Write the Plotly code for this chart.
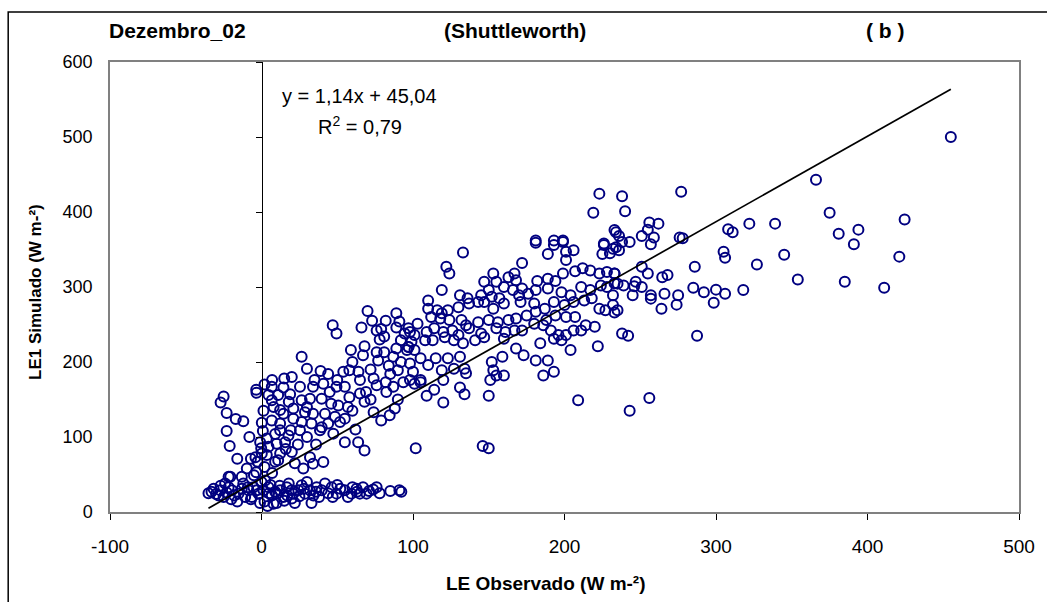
import plotly.graph_objects as go

# (LE observado, LE1 simulado) pairs, grouped by region of the scatter
low_band = [(-31.6,31),(-28.3,22),(-27.2,29),(-25,20),(-21.7,33),(-20.6,47),(-19.5,29),(-15.2,24.5),
    (-13,31),(-10.8,20),(-8.6,29),(-6.4,20),(-5.3,33),(-2,24.5),(1.3,29),(2.4,42),(4.6,33),(6.8,22),
    (7.9,11),(10,24.5),(12.3,29),(14.5,20),(16.7,33),(19.9,29),(21,24.5),(24.3,29),(26.5,35.6),
    (28.7,24.5),(32,29),(34.2,22),(36.4,33),(39.7,29),(41.9,38),(46.3,33),(49.6,24.5),(55,29),
    (59.4,24.5),(62.7,31),(64.9,24.5),(69.3,24.5),(73.7,30),(91,29),(92.3,27),(4,8),(10,12),(2,14),
    (-7,17),(15,15),(20,18),(-18,22),(-23,26),(-30,24),(-27,35),(-12,38),(0,40),(6,36),(30,40),
    (44,25),(52,31),(57,20),(67,33),(78,25),(85,28),(25,21),(36,27),(-3,29),(9,27),(17,22),
    (-33,27),(-16,14),(-1,12),(12,35),(22,12),(47,20),(60,33),(71,28),(-35,25),(-24,38),(-9,33),
    (5,25),(18,38),(28,31),(38,20),(50,36),(63,27),(76,33),(-20,17),(33,12)]

low_cluster = [(-25,154),(-27,146),(-23,132),(-17,124),(-12,121),(-23,108),(-21,88),(-16,71),
    (-3.5,163),(-3.3,159),(1.3,135),(0.2,119),(0.9,108),(-0.9,93),(-0.2,85),(0.2,78),(3.5,98),
    (4.6,87),(3.5,76),(-2.6,67),(-7,71),(-9.7,58),(-3.5,53),(-21.7,47),(-13,47),(9,67),(11,69),
    (12.3,78),(10,91),(9,104),(12.3,109),(6.8,122),(12.3,118),(14.5,131),(12.3,136),(6.8,149),
    (4.6,156),(11,156),(18.9,157),(6.8,167),(14.5,166),(25.4,167),(34,167),(40.8,171),(49.5,167),
    (55,167),(58,153),(65,158),(69,160),(76,169),(82.4,160),(87,167),(93.6,173),(68,147),(74,133),
    (79,122),(84.6,129),(88,138),(63.8,93),(68,82),(55,93),(47.4,104.5),(38.6,109),(33,118),
    (25.4,109),(26.5,120),(21,124.5),(19.3,109),(17.8,102),(15.6,93),(21,138),(28.7,133),(34,131),
    (41.9,131),(48.5,127),(55,124.5),(57,140),(50.7,142),(46,144.5),(39.7,151),(32,151),(26.5,149),
    (51.8,120),(39.7,113),(22,65),(27.6,58),(32,73),(34,64.5),(40.8,66.7),(-4,73),(-5,49),
    (2,60),(7,52),(16,84),(24,90),(30,100),(44,118),(60,135),(72,150),(90,150),(30,140),(18,147),
    (62,110),(45,160),(8,140),(20,80),(36,90),(-8,100),(2,170)]

mid_left = [(70,268),(89,265),(73,255),(82,255),(91,254),(47,249),(49.5,238),(66,246),(76,242),
    (79,244),(81,234),(78,230),(89,246),(94.5,238),(98,240),(92,229),(97,220),(68,221),(59,216),
    (67,209),(76,213),(81,213),(89,218),(96,216),(77,202),(87,207),(92,200),(98,198),(26.5,207),
    (30,191),(39,188),(44,184),(54,187),(58,189),(64,187),(7,176),(15,178),(35,176),(50,176),
    (65,176),(74,178),(85,184),(90,189),(82,173),(98,176),(20,180),(60,200),(84,195),(72,190)]

mid_right = [(133,346),(122,327),(124,318),(119,296),(181,359),(189,344),(193,356),(199,360),
    (201,347),(206,349),(201,336),(172,332),(226,356),(225,344),(230,345),(234,353),(153,318),
    (147,307),(155,307),(163,313),(167,318),(168,309),(150,296),(160,300),(166,296),(172,298),
    (182,308),(189,311),(194,308),(199,318),(207,321),(212,325),(217,322),(223,318),(228,320),
    (233,318),(110,282),(131,289),(136,285),(143,280),(145,289),(152,287),(157,285),(170,289),
    (176,291),(181,296),(189,298),(198,293),(204,289),(211,300),(217,296),(224,302),(228,300),
    (233,305),(110,271),(116,269),(123,269),(119,265),(130,273),(137,278),(147,280),(153,271),
    (160,278),(171,280),(180,278),(187,271),(193,280),(200,276),(206,280),(213,282),(218,285),
    (223,271),(227,269),(232,276),(103,251),(112,260),(118,258),(124,256),(132,256),(135,249),
    (143,253),(150,256),(156,253),(163,256),(168,258),(175,262),(181,267),(188,256),(194,262),
    (201,260),(207,260),(214,249),(220,247),(97,245),(101,236),(109,240),(114,245),(120,240),
    (126,242),(130,236),(137,245),(145,238),(155,245),(161,240),(167,242),(172,242),(180,251),
    (186,249),(191,242),(196,236),(201,236),(206,242),(211,242),(99,227),(108,229),(113,229),
    (121,233),(127,229),(133,225),(141,229),(147,233),(160,231),(168,218),(173,209),(181,202),
    (189,202),(193,187),(186,182),(159,207),(152,200),(153,189),(160,182),(155,182),(134,191),
    (135,185),(127,191),(119,189),(110,196),(105,205),(101,216),(97,220),(115,205),(123,205),
    (131,207),(204,216),(222,221),(198,229),(193,231),(184,225),(100,187),(105,176)]

sparse_low = [(101.8,85),(146,88),(150,85),(209,149),(120,146),(150,155),(134,157),(131,166),
    (109,155),(114,163),(105,173),(101,171),(120,176),(151,176)]

upper_right = [(238,421),(277,427),(240,401),(256,386),(262,384.5),(255,376.5),(234,373),(236,368),
    (251,368),(259,366),(238,360),(243,360),(257,357),(232,351),(236,349),(276,366),(278,365),
    (308,377),(311,373),(322,384.5),(339,384.5),(305,347),(306,339),(345,343),(327,330),(354,310),
    (286,327),(251,327),(255,318),(264.5,313),(268,316),(233,318),(235,304.5),(239,302),(247,307),
    (246,301),(251,300),(285,299),(292,293),(300,296.5),(306,291),(318,296),(266,291),(275,289),
    (257,289),(245,289),(232,289),(257,284.5),(264,271),(274,276.5),(298.5,279),(235,269),(233,266),
    (238,238),(242,235),(287.5,235),(256,152),(243,135),(223,424.5),(219,399),(233,376),(181,362),
    (193,362),(199,362),(226,358)]

far_right = [(455,500),(366,443),(375,399),(424.5,390),(381,371),(394,376.5),(391,357),(421,340.5),
    (385,307),(411,299)]

x_tick_vals = [-100, 0, 100, 200, 300, 400, 500]
x_tick_text = ["-100", "0", "100", "200", "300", "400", "500"]

groups = [low_band, low_cluster, mid_left, mid_right, sparse_low, upper_right, far_right]
le_observado = [p[0] for g in groups for p in g]
le1_simulado = [p[1] for g in groups for p in g]

slope, intercept = 1.14, 45.04
line_x = [min(le_observado), max(le_observado)]
line_y = [slope * v + intercept for v in line_x]

FONT = "Arial, Liberation Sans, sans-serif"

fig = go.Figure()
fig.add_trace(go.Scatter(
    x=le_observado, y=le1_simulado, mode="markers",
    marker=dict(symbol="circle-open", size=10, color="#000080", line=dict(width=2, color="#000080")),
    showlegend=False, cliponaxis=False))
fig.add_trace(go.Scatter(
    x=line_x, y=line_y, mode="lines", line=dict(color="black", width=1.7),
    showlegend=False, yaxis="y2"))

fig.update_layout(
    width=1047, height=602,
    margin=dict(l=110, r=22, t=62, b=90),
    paper_bgcolor="white", plot_bgcolor="white",
    font=dict(family=FONT, size=16, color="black"),
    xaxis=dict(range=[-100, 500], tickvals=x_tick_vals, ticktext=x_tick_text,
               showgrid=False, zeroline=False,
               showline=True, linecolor="#808080", linewidth=1.5, mirror=True,
               ticks="outside", ticklen=6, tickcolor="black",
               tickfont=dict(size=19, family=FONT), ticklabelstandoff=10),
    yaxis=dict(range=[0, 600], dtick=100, showgrid=False, zeroline=False,
               showline=True, linecolor="#808080", linewidth=1.5, mirror=True,
               ticks="", tickfont=dict(size=18, family=FONT), ticklabelstandoff=12),
    yaxis2=dict(range=[0, 600], dtick=100, overlaying="y", anchor="free", position=1/6,
                showgrid=False, zeroline=False, showline=True, linecolor="black", linewidth=1,
                ticks="outside", ticklen=6, tickcolor="black", showticklabels=False),
    annotations=[
        dict(text="<b>Dezembro_02</b>", xref="paper", yref="paper", x=-0.003, y=1.069,
             xanchor="left", yanchor="middle", showarrow=False, font=dict(size=21)),
        dict(text="<b>(Shuttleworth)</b>", xref="paper", yref="paper", x=0.446, y=1.069,
             xanchor="center", yanchor="middle", showarrow=False, font=dict(size=21)),
        dict(text="<b>( b )</b>", xref="paper", yref="paper", x=0.853, y=1.069,
             xanchor="center", yanchor="middle", showarrow=False, font=dict(size=21)),
        dict(text="<b>LE Observado (W m-²)</b>", xref="paper", yref="paper", x=0.48, y=-0.158,
             xanchor="center", yanchor="middle", showarrow=False, font=dict(size=19)),
        dict(text="<b>LE1 Simulado (W m-²)</b>", xref="paper", yref="paper", x=-0.082, y=0.49,
             xanchor="center", yanchor="middle", textangle=-90, showarrow=False, font=dict(size=17)),
        dict(text="y = 1,14x + 45,04", x=12.5, y=555, xanchor="left", yanchor="middle",
             showarrow=False, font=dict(size=20)),
        dict(text="R<sup>2</sup> = 0,79", x=36, y=515, xanchor="left", yanchor="middle",
             showarrow=False, font=dict(size=20)),
    ],
    shapes=[dict(type="rect", xref="paper", yref="paper", x0=-0.112, y0=-0.3, x1=1.2, y1=1.111,
                 line=dict(color="black", width=1.5), layer="below")],
)

fig.write_html("out.html")
